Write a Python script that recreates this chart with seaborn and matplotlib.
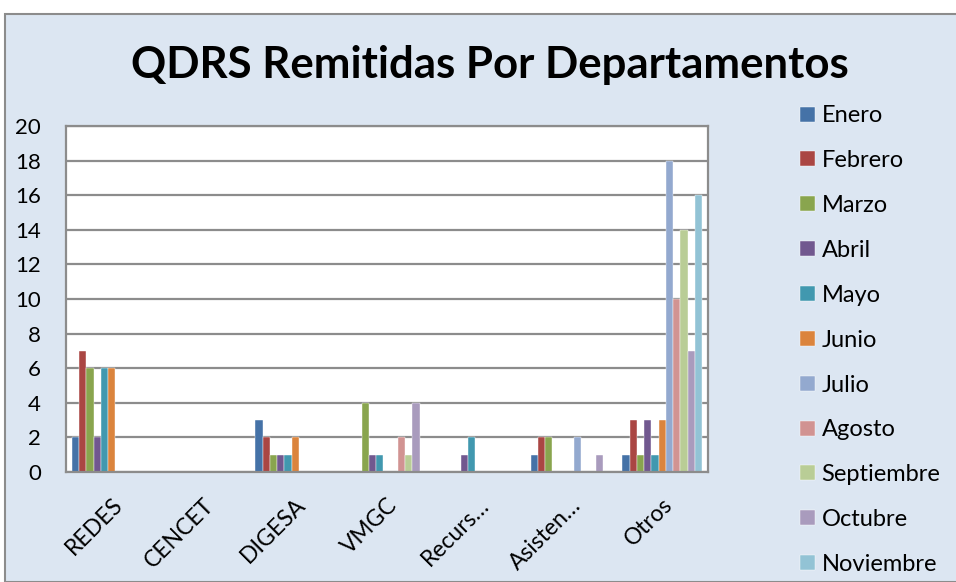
import numpy as np
import pandas as pd
import matplotlib
matplotlib.use("Agg")
import matplotlib.pyplot as plt
import seaborn as sns
from matplotlib.patches import Rectangle

# data
departamentos = ["REDES", "CENCET", "DIGESA", "VMGC", "Recurs…", "Asisten…", "Otros"]
meses = ["Enero", "Febrero", "Marzo", "Abril", "Mayo", "Junio", "Julio",
         "Agosto", "Septiembre", "Octubre", "Noviembre"]

redes   = [2, 7, 6, 2, 6, 6, 0, 0, 0, 0, 0]
cencet  = [0, 0, 0, 0, 0, 0, 0, 0, 0, 0, 0]
digesa  = [3, 2, 1, 1, 1, 2, 0, 0, 0, 0, 0]
vmgc    = [0, 0, 4, 1, 1, 0, 0, 2, 1, 4, 0]
recurs  = [0, 0, 0, 1, 2, 0, 0, 0, 0, 0, 0]
asisten = [1, 2, 2, 0, 0, 0, 2, 0, 0, 1, 0]
otros   = [1, 3, 1, 3, 1, 3, 18, 10, 14, 7, 16]

colores = ["#4572A7", "#AA4643", "#89A54E", "#71588F", "#4198AF", "#DB843D",
           "#93A9CF", "#D19392", "#B9CD96", "#A99BBD", "#92C3D5"]

rows = []
for dep, vals in zip(departamentos, [redes, cencet, digesa, vmgc, recurs, asisten, otros]):
    for mes, v in zip(meses, vals):
        rows.append({"Departamento": dep, "Mes": mes, "Cantidad": v})
df = pd.DataFrame(rows)

sns.set_style("white")
plt.rcParams["font.family"] = ["Lato", "DejaVu Sans"]
plt.rcParams["text.color"] = "black"
plt.rcParams["xtick.color"] = "black"
plt.rcParams["ytick.color"] = "black"

fig = plt.figure(figsize=(9.56, 5.82), dpi=100)
fig.patch.set_facecolor("white")
# chart area background with grey frame
fig.patches.append(Rectangle((5 / 956, 0), 1, 1 - 14 / 582, transform=fig.transFigure,
                             facecolor="#DCE6F2", edgecolor="#8C8C8C", lw=1.5, zorder=-5))

ax = fig.add_axes([66 / 956, 110 / 582, 642 / 956, 346 / 582])
ax.set_zorder(2)
ax.set_facecolor("white")

sns.barplot(data=df, x="Departamento", y="Cantidad", hue="Mes", hue_order=meses,
            palette=colores, width=0.87, gap=0, saturation=1, ax=ax,
            edgecolor="white", linewidth=0.3, legend=True)

ax.set_ylim(0, 20)
ax.set_yticks(range(0, 21, 2))
ax.set_xlim(-0.5, len(departamentos) - 0.5)
ax.grid(axis="y", color="#8C8C8C", lw=1.6)
ax.set_axisbelow(True)
for s in ax.spines.values():
    s.set_color("#8C8C8C")
    s.set_linewidth(1.6)
ax.set_xlabel("")
ax.set_ylabel("")
ax.tick_params(axis="y", labelsize=16, pad=18, length=0)
ax.tick_params(axis="x", labelsize=16.5, pad=16, length=0)
for lbl in ax.get_xticklabels():
    lbl.set_rotation(45)
    lbl.set_ha("right")
    lbl.set_rotation_mode("anchor")

handles, labels = ax.get_legend_handles_labels()
ax.get_legend().remove()
fig.legend(handles, labels, loc="upper left", bbox_to_anchor=(791 / 956, 1 - 96 / 582),
           frameon=False, fontsize=17, handlelength=0.6, handleheight=0.6,
           handletextpad=0.3, labelspacing=1.01, borderaxespad=0)

fig.text(0.512, 1 - 65 / 582, "QDRS Remitidas Por Departamentos", ha="center", va="center",
         fontsize=31.5, fontweight="bold")

fig.savefig("out.png", dpi=100, facecolor=fig.get_facecolor())
